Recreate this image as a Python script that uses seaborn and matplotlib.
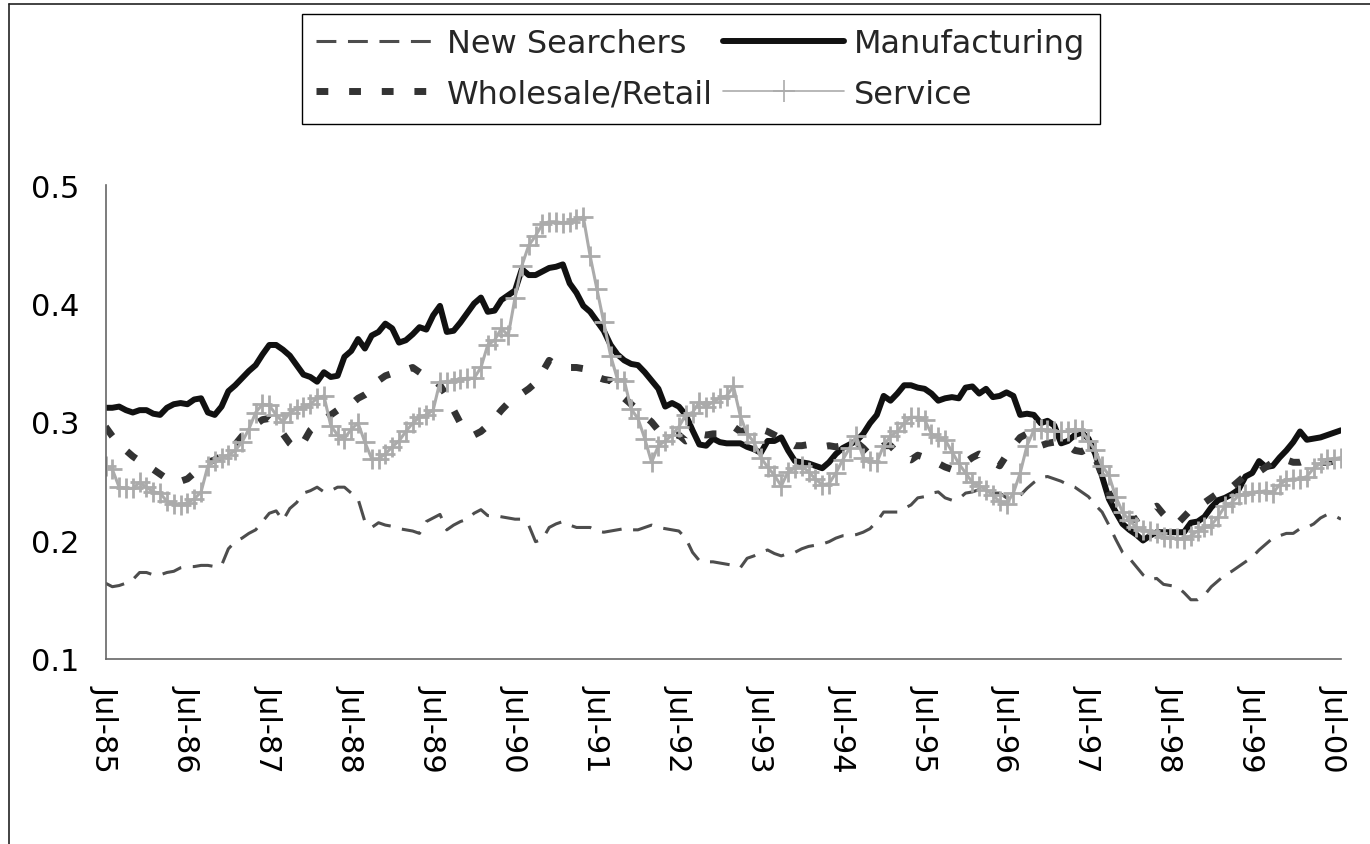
import matplotlib
matplotlib.use("Agg")
import matplotlib.pyplot as plt
from matplotlib.lines import Line2D
import numpy as np
import pandas as pd
import seaborn as sns

# monthly values, Jul-85 .. Aug-00 (each row = Jul..Jun of one year)
new_searchers = [
    0.164, 0.161, 0.162, 0.164, 0.167, 0.173, 0.173, 0.171, 0.171, 0.173, 0.174, 0.177,
    0.178, 0.178, 0.179, 0.179, 0.178, 0.179, 0.193, 0.199, 0.202, 0.206, 0.209, 0.216,
    0.223, 0.225, 0.217, 0.227, 0.232, 0.240, 0.242, 0.245, 0.241, 0.242, 0.245, 0.245,
    0.240, 0.235, 0.216, 0.211, 0.215, 0.213, 0.212, 0.210, 0.209, 0.208, 0.206, 0.216,
    0.219, 0.222, 0.209, 0.213, 0.216, 0.218, 0.223, 0.226, 0.221, 0.221, 0.220, 0.219,
    0.218, 0.218, 0.213, 0.199, 0.201, 0.211, 0.214, 0.216, 0.213, 0.211, 0.211, 0.211,
    0.208, 0.207, 0.208, 0.209, 0.210, 0.209, 0.209, 0.211, 0.213, 0.211, 0.210, 0.209,
    0.208, 0.202, 0.190, 0.183, 0.182, 0.182, 0.181, 0.180, 0.179, 0.177, 0.185, 0.187,
    0.190, 0.192, 0.189, 0.187, 0.189, 0.190, 0.193, 0.195, 0.196, 0.197, 0.199, 0.202,
    0.204, 0.204, 0.205, 0.207, 0.210, 0.216, 0.224, 0.224, 0.224, 0.227, 0.230, 0.236,
    0.237, 0.240, 0.241, 0.236, 0.234, 0.235, 0.240, 0.241, 0.243, 0.242, 0.240, 0.240,
    0.236, 0.235, 0.238, 0.244, 0.249, 0.253, 0.254, 0.252, 0.250, 0.247, 0.245, 0.241,
    0.237, 0.230, 0.224, 0.213, 0.201, 0.190, 0.185, 0.178, 0.171, 0.167, 0.168, 0.163,
    0.162, 0.161, 0.156, 0.150, 0.150, 0.154, 0.161, 0.166, 0.171, 0.174, 0.178, 0.182,
    0.186, 0.192, 0.197, 0.202, 0.204, 0.206, 0.206, 0.210, 0.211, 0.214, 0.219, 0.222,
    0.221, 0.218,
]
manufacturing = [
    0.312, 0.312, 0.313, 0.310, 0.308, 0.310, 0.310, 0.307, 0.306, 0.312, 0.315, 0.316,
    0.315, 0.319, 0.320, 0.308, 0.306, 0.313, 0.326, 0.331, 0.337, 0.343, 0.348, 0.357,
    0.365, 0.365, 0.361, 0.356, 0.348, 0.340, 0.338, 0.334, 0.342, 0.338, 0.339, 0.355,
    0.360, 0.370, 0.362, 0.373, 0.376, 0.383, 0.379, 0.367, 0.369, 0.374, 0.380, 0.378,
    0.390, 0.398, 0.376, 0.377, 0.384, 0.392, 0.400, 0.405, 0.393, 0.394, 0.403, 0.407,
    0.411, 0.429, 0.424, 0.424, 0.427, 0.430, 0.431, 0.433, 0.417, 0.409, 0.398, 0.393,
    0.385, 0.377, 0.365, 0.357, 0.352, 0.349, 0.348, 0.342, 0.335, 0.328, 0.313, 0.316,
    0.313, 0.306, 0.293, 0.281, 0.280, 0.286, 0.283, 0.282, 0.282, 0.282, 0.279, 0.277,
    0.274, 0.284, 0.284, 0.287, 0.276, 0.267, 0.266, 0.265, 0.263, 0.261, 0.266, 0.273,
    0.278, 0.281, 0.284, 0.290, 0.299, 0.306, 0.322, 0.318, 0.324, 0.331, 0.331, 0.329,
    0.328, 0.324, 0.318, 0.320, 0.321, 0.320, 0.329, 0.330, 0.324, 0.328, 0.321, 0.322,
    0.325, 0.322, 0.306, 0.307, 0.306, 0.299, 0.301, 0.297, 0.282, 0.284, 0.289, 0.291,
    0.286, 0.273, 0.254, 0.235, 0.224, 0.214, 0.209, 0.205, 0.200, 0.204, 0.207, 0.207,
    0.207, 0.207, 0.207, 0.215, 0.216, 0.220, 0.228, 0.234, 0.236, 0.239, 0.243, 0.254,
    0.257, 0.267, 0.262, 0.263, 0.270, 0.276, 0.283, 0.292, 0.285, 0.286, 0.287, 0.289,
    0.291, 0.293,
]
wholesale_retail = [
    0.296, 0.288, 0.281, 0.276, 0.271, 0.267, 0.263, 0.260, 0.256, 0.252, 0.249, 0.250,
    0.252, 0.257, 0.263, 0.266, 0.268, 0.271, 0.275, 0.281, 0.288, 0.294, 0.298, 0.302,
    0.303, 0.298, 0.290, 0.282, 0.277, 0.283, 0.293, 0.298, 0.302, 0.306, 0.310, 0.313,
    0.315, 0.320, 0.323, 0.327, 0.335, 0.339, 0.341, 0.342, 0.344, 0.346, 0.342, 0.338,
    0.336, 0.331, 0.322, 0.310, 0.299, 0.292, 0.289, 0.292, 0.297, 0.303, 0.310, 0.316,
    0.320, 0.324, 0.328, 0.333, 0.342, 0.352, 0.348, 0.347, 0.346, 0.346, 0.345, 0.341,
    0.338, 0.336, 0.335, 0.328, 0.320, 0.315, 0.310, 0.305, 0.300, 0.293, 0.290, 0.289,
    0.289, 0.284, 0.287, 0.290, 0.289, 0.290, 0.290, 0.292, 0.296, 0.292, 0.293, 0.295,
    0.294, 0.292, 0.289, 0.286, 0.283, 0.280, 0.280, 0.281, 0.280, 0.279, 0.280, 0.279,
    0.280, 0.282, 0.283, 0.278, 0.272, 0.275, 0.280, 0.280, 0.274, 0.270, 0.268, 0.272,
    0.270, 0.268, 0.265, 0.262, 0.260, 0.262, 0.266, 0.270, 0.273, 0.270, 0.266, 0.263,
    0.272, 0.280, 0.287, 0.290, 0.285, 0.280, 0.282, 0.283, 0.282, 0.280, 0.276, 0.275,
    0.278, 0.270, 0.255, 0.240, 0.230, 0.222, 0.218, 0.218, 0.222, 0.226, 0.229, 0.222,
    0.216, 0.214, 0.220, 0.226, 0.228, 0.232, 0.236, 0.240, 0.242, 0.245, 0.250, 0.255,
    0.258, 0.258, 0.262, 0.266, 0.270, 0.268, 0.266, 0.266, 0.268, 0.268, 0.266, 0.266,
    0.267, 0.268,
]
service = [
    0.263, 0.260, 0.245, 0.244, 0.244, 0.249, 0.245, 0.241, 0.240, 0.233, 0.231, 0.230,
    0.232, 0.235, 0.241, 0.263, 0.267, 0.270, 0.272, 0.276, 0.283, 0.294, 0.308, 0.315,
    0.314, 0.306, 0.300, 0.308, 0.311, 0.313, 0.315, 0.320, 0.322, 0.297, 0.289, 0.286,
    0.294, 0.299, 0.283, 0.269, 0.269, 0.273, 0.279, 0.284, 0.292, 0.299, 0.304, 0.306,
    0.310, 0.334, 0.334, 0.335, 0.336, 0.337, 0.337, 0.346, 0.365, 0.369, 0.379, 0.373,
    0.405, 0.432, 0.449, 0.457, 0.467, 0.469, 0.469, 0.468, 0.469, 0.471, 0.473, 0.440,
    0.412, 0.384, 0.356, 0.336, 0.335, 0.311, 0.303, 0.286, 0.266, 0.280, 0.284, 0.289,
    0.296, 0.306, 0.308, 0.317, 0.313, 0.317, 0.320, 0.322, 0.330, 0.305, 0.290, 0.283,
    0.270, 0.262, 0.255, 0.246, 0.258, 0.261, 0.263, 0.258, 0.252, 0.247, 0.248, 0.257,
    0.268, 0.278, 0.288, 0.270, 0.267, 0.266, 0.280, 0.288, 0.292, 0.299, 0.304, 0.304,
    0.302, 0.290, 0.287, 0.285, 0.275, 0.265, 0.257, 0.249, 0.246, 0.243, 0.238, 0.233,
    0.231, 0.240, 0.257, 0.280, 0.293, 0.294, 0.293, 0.292, 0.292, 0.292, 0.294, 0.293,
    0.284, 0.276, 0.263, 0.255, 0.237, 0.224, 0.217, 0.211, 0.209, 0.208, 0.206, 0.203,
    0.202, 0.202, 0.201, 0.204, 0.208, 0.211, 0.213, 0.220, 0.229, 0.232, 0.238, 0.239,
    0.241, 0.241, 0.242, 0.240, 0.247, 0.251, 0.252, 0.252, 0.254, 0.261, 0.265, 0.269,
    0.269, 0.270,
]

tick_labels = ["Jul-85", "Jul-86", "Jul-87", "Jul-88", "Jul-89", "Jul-90", "Jul-91", "Jul-92",
               "Jul-93", "Jul-94", "Jul-95", "Jul-96", "Jul-97", "Jul-98", "Jul-99", "Jul-00"]
y_ticks = [0.1, 0.2, 0.3, 0.4, 0.5]

df = pd.DataFrame({
    "month": np.arange(len(manufacturing)),
    "New Searchers": new_searchers,
    "Manufacturing": manufacturing,
    "Wholesale/Retail": wholesale_retail,
    "Service": service,
})

sns.set_style("white")
plt.rcParams["font.family"] = ["DejaVu Sans"]

# 線のスタイル（Excel風）
styles = {
    "New Searchers": dict(color="#4d4d4d", lw=2.2, ls=(0, (6.5, 3.8))),
    "Manufacturing": dict(color="#111111", lw=4.3, ls="-", solid_joinstyle="round"),
    "Wholesale/Retail": dict(color="#333333", lw=5.0, ls=(0, (1.7, 3.0))),
    "Service": dict(color="#ababab", lw=2.2, ls="-", marker="+", markersize=14,
                    markeredgewidth=2.0, markeredgecolor="#ababab"),
}

fig = plt.figure(figsize=(13.7, 8.45), dpi=100)
ax = fig.add_axes([105.5 / 1370, 185 / 845, 1235.5 / 1370, 474 / 845])

for name in ["New Searchers", "Manufacturing", "Wholesale/Retail", "Service"]:
    sns.lineplot(data=df, x="month", y=name, ax=ax, legend=False, **styles[name])

ax.set_xlim(0, len(manufacturing) - 1)
ax.set_ylim(0.1, 0.5)
ax.set_xticks(range(0, 12 * len(tick_labels), 12))
ax.set_xticklabels(tick_labels, rotation=270)
ax.set_yticks(y_ticks)
ax.set_yticklabels([f"{v:.1f}" for v in y_ticks])
ax.set_xlabel("")
ax.set_ylabel("")

for side in ["top", "right"]:
    ax.spines[side].set_visible(False)
for side in ["left", "bottom"]:
    ax.spines[side].set_color("#666666")
    ax.spines[side].set_linewidth(1.2)
ax.tick_params(axis="both", direction="in", length=6.5, width=1.0, color="#666666",
               labelsize=22, labelcolor="black")
ax.tick_params(axis="x", pad=18)
ax.tick_params(axis="y", pad=19)

# chart area border (partly visible)
fig.add_artist(Line2D([9 / 1370, 9 / 1370], [0, 1 - 5 / 845], transform=fig.transFigure,
                      color="#222222", lw=1.2))
fig.add_artist(Line2D([9 / 1370, 1], [1 - 5 / 845, 1 - 5 / 845], transform=fig.transFigure,
                      color="#222222", lw=1.2))

# legend (2 columns, row-wise order like the original)
order = ["New Searchers", "Wholesale/Retail", "Manufacturing", "Service"]
handles = []
for name in order:
    st = dict(styles[name])
    if name == "Service":
        st.update(lw=1.2, markersize=16, markeredgewidth=1.2)
    handles.append(Line2D([], [], **st))
leg = fig.legend(handles, order, loc="upper left", bbox_to_anchor=(302 / 1370, 1 - 15 / 845),
                 ncol=2, fontsize=23, frameon=True, fancybox=False, shadow=False,
                 edgecolor="black", framealpha=1, borderpad=0.45, handlelength=3.8,
                 handletextpad=0.3, columnspacing=0.3, labelspacing=0.6, borderaxespad=0)
leg.get_frame().set_linewidth(1.0)

fig.savefig("out.png", dpi=100, facecolor="white")
